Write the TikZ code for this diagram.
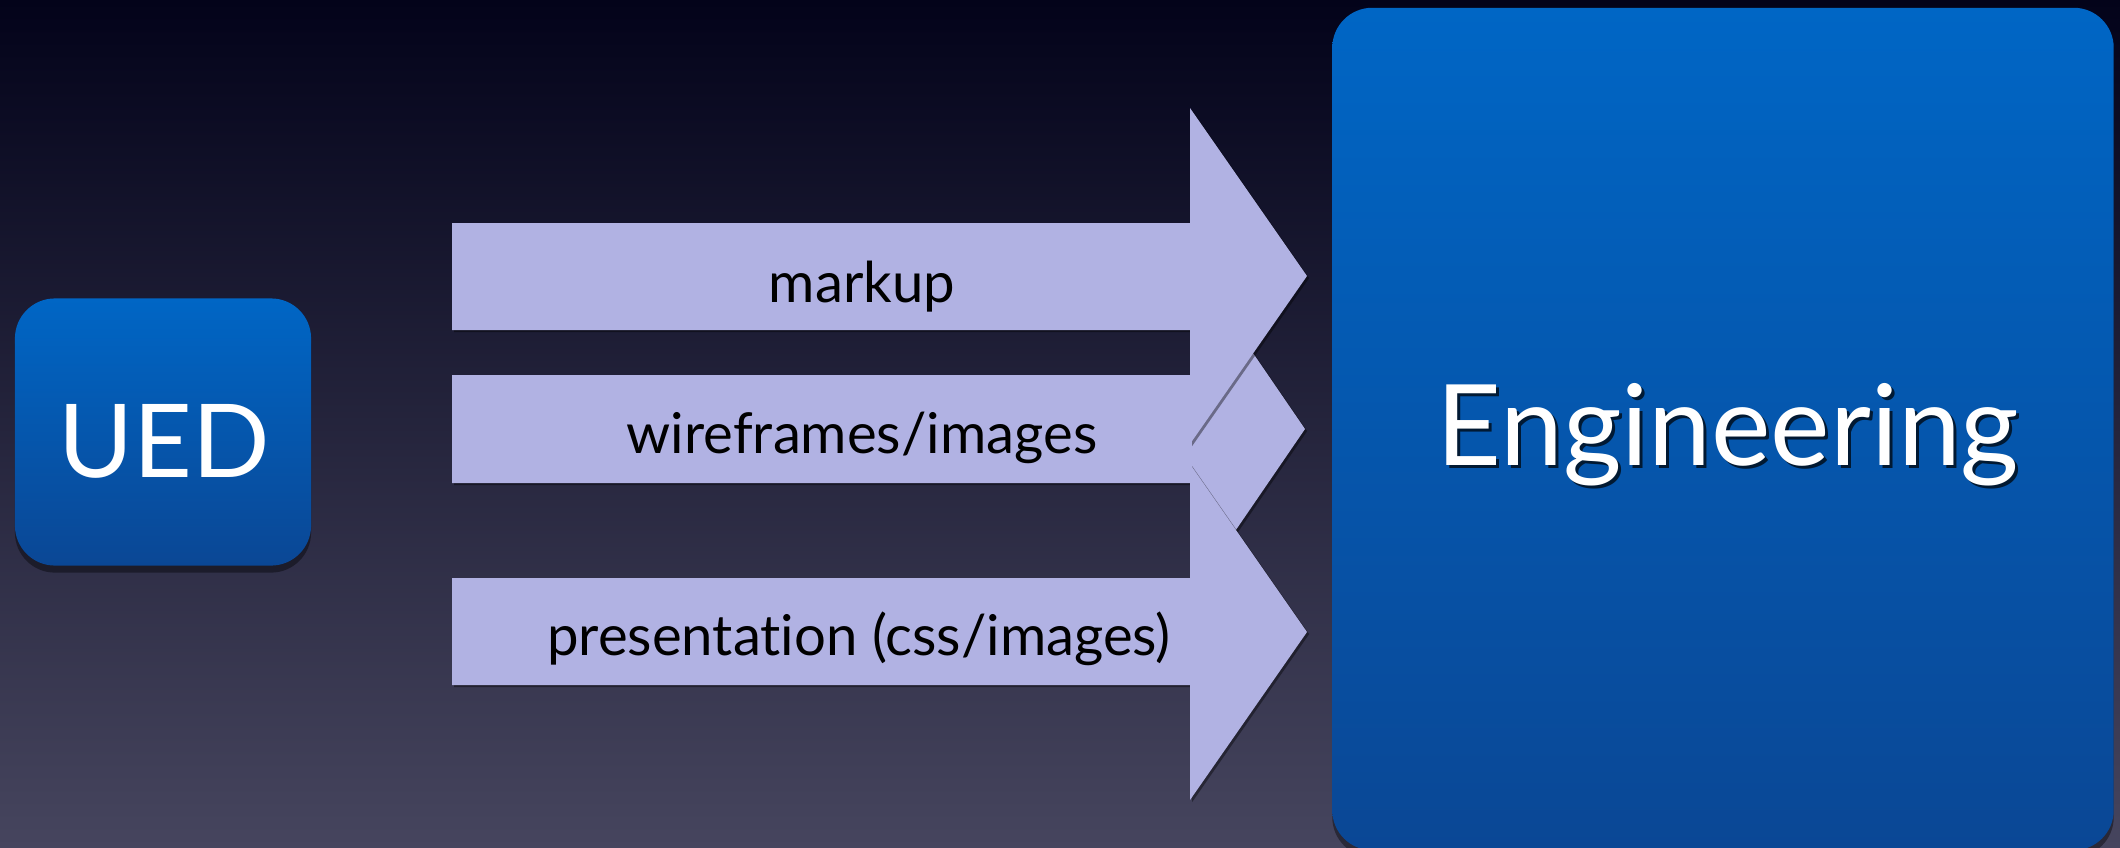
\documentclass[tikz,border=0pt]{standalone}
\usepackage{fontspec}
\setmainfont{Lato}[Ligatures=NoCommon]
\usetikzlibrary{positioning,shadows}

\definecolor{bgtop}{HTML}{03031A}
\definecolor{bgmid}{HTML}{18182E}
\definecolor{bgbot}{HTML}{46455E}
\definecolor{boxtop}{HTML}{0066C5}
\definecolor{boxbot}{HTML}{0A4795}
\definecolor{arrowfill}{HTML}{B1B2E3}

\tikzset{
  bluebox/.style={draw=none, rounded corners=0.4cm, top color=boxtop, bottom color=boxbot,
    drop shadow={fill=black, opacity=0.4, shadow xshift=0pt, shadow yshift=-2pt}},
  flowarrow/.style={fill=arrowfill,
    drop shadow={fill=black, opacity=0.4, shadow xshift=0.6pt, shadow yshift=-0.6pt}},
  arrowlabel/.style={anchor=base, inner sep=0pt, text=black, font=\fontsize{16}{19}\selectfont},
  boxlabel/.style={anchor=base, inner sep=0pt, text=white},
}

\begin{document}
\begin{tikzpicture}[x=0.01cm, y=-0.01cm]

    % Background
    \useasboundingbox (0,0) rectangle (2120,848);
    \shade[top color=bgtop, middle color=bgmid, bottom color=bgbot] (0,0) rectangle (2120,848);

    % Boxes
    \node[bluebox, minimum width=2.96cm, minimum height=2.67cm] (ued) at (163,432) {};
    \node[bluebox, minimum width=7.81cm, minimum height=8.42cm] (eng) at (1723,429) {};

    \node[boxlabel, font=\fontsize{29}{34}\selectfont] (uedtext) at (164,477) {UED};
    \node[boxlabel, text=black, opacity=0.7, font=\fontsize{32}{38}\selectfont] (engshadow) at (1731,468) {Engineering};
    \node[boxlabel, font=\fontsize{32}{38}\selectfont] (engtext) at (1728,465) {Engineering};

    % Arrows (middle one sits behind the others)
    \fill[flowarrow] (452,375) -- (1190,375) -- (1190,261) -- (1305,429)
                     -- (1190,597) -- (1190,483) -- (452,483) -- cycle;
    \fill[flowarrow] (452,223) -- (1190,223) -- (1190,108) -- (1307,276)
                     -- (1190,444) -- (1190,330) -- (452,330) -- cycle;
    \fill[flowarrow] (452,578) -- (1190,578) -- (1190,464) -- (1307,632)
                     -- (1190,800) -- (1190,685) -- (452,685) -- cycle;

    % Arrow labels
    \node[arrowlabel] (markup) at (862,302) {markup};
    \node[arrowlabel] (wireframes) at (862,453) {wireframes/images};
    \node[arrowlabel] (presentation) at (859,655) {presentation (css/images)};

\end{tikzpicture}
\end{document}
